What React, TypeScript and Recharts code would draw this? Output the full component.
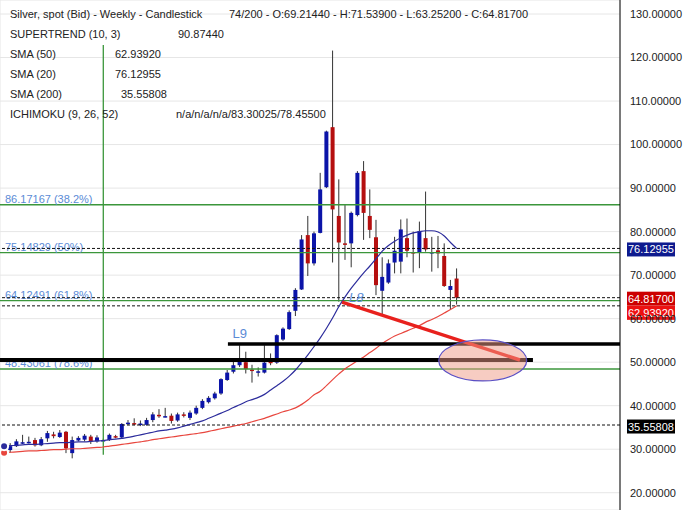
import type { ReactElement } from 'react';
import {
  Bar,
  CartesianGrid,
  ComposedChart,
  Line,
  ReferenceDot,
  ReferenceLine,
  XAxis,
  YAxis,
} from 'recharts';

// weekly candles (index 0 = oldest)
const OPEN = [
  30.1, 29.8, 30.7, 31.5, 31.6, 32.1, 30.9, 32.5, 33.4, 32.8, 34.0, 29.1, 32.0, 32.2, 32.9, 31.8,
  32.0, 32.1, 33.0, 32.7, 35.8, 36.0, 35.6, 35.6, 36.7, 37.9, 37.5, 37.7, 36.6, 38.0, 37.2, 38.2,
  39.5, 40.8, 41.7, 42.8, 45.9, 47.8, 49.3, 50.0, 48.3, 47.7, 47.6, 50.1, 49.9, 55.2, 57.6, 61.8,
  66.7, 79.2, 72.7, 79.7, 90.2, 104.0, 83.6, 77.3, 77.3, 83.8, 93.9, 83.6, 78.7, 66.4, 68.3, 72.9,
  73.1, 78.5, 75.3, 75.2, 78.5, 75.1, 75.7, 74.4, 66.6, 69.2144,
];
const HIGH = [
  30.6, 31.4, 32.3, 33.3, 32.9, 32.6, 32.8, 34.2, 34.0, 34.4, 34.2, 32.9, 33.0, 33.5, 33.3, 33.2,
  32.4, 33.6, 33.3, 36.0, 36.7, 37.1, 36.6, 37.2, 38.5, 39.2, 39.5, 38.2, 38.4, 38.5, 38.9, 40.0,
  41.5, 42.2, 43.2, 46.3, 48.2, 50.9, 53.9, 52.4, 49.4, 48.8, 53.9, 52.0, 56.4, 58.0, 61.9, 67.0,
  79.2, 83.6, 80.0, 93.5, 103.2, 121.6, 92.0, 86.1, 84.6, 93.9, 96.2, 89.7, 82.7, 74.1, 73.6, 78.8,
  82.8, 83.0, 80.0, 82.3, 89.2, 78.8, 79.0, 77.3, 68.9, 71.539,
];
const LOW = [
  29.9, 29.2, 30.5, 31.2, 31.3, 30.6, 30.7, 31.7, 32.5, 32.6, 29.1, 27.9, 31.8, 31.8, 31.2, 31.5,
  31.8, 31.9, 32.5, 32.5, 35.5, 35.5, 35.3, 35.4, 36.2, 37.2, 37.3, 35.9, 36.3, 37.3, 36.7, 37.9,
  39.2, 40.5, 41.4, 42.5, 45.7, 47.4, 48.9, 47.4, 45.3, 46.7, 47.4, 49.3, 49.6, 54.9, 57.4, 60.6,
  66.6, 69.8, 72.2, 79.6, 90.0, 72.9, 63.9, 73.5, 71.8, 83.5, 78.1, 78.5, 65.4, 60.8, 68.0, 70.4,
  70.4, 74.1, 70.6, 71.6, 75.4, 70.8, 71.6, 67.3, 62.0, 63.252,
];
const CLOSE = [
  30.3, 30.7, 31.8, 31.6, 31.7, 30.9, 32.3, 33.7, 33.0, 33.8, 30.2, 32.1, 32.6, 33.1, 31.8, 32.7,
  32.1, 33.3, 32.7, 35.8, 36.1, 35.8, 35.9, 36.7, 38.0, 37.7, 37.6, 36.5, 38.0, 37.8, 38.4, 39.5,
  41.1, 41.8, 42.8, 46.1, 47.6, 49.3, 50.9, 48.4, 48.1, 47.9, 49.9, 49.8, 56.2, 57.7, 61.5, 66.6,
  78.2, 72.7, 79.6, 89.7, 103.0, 85.1, 77.5, 77.0, 84.3, 93.5, 84.3, 80.4, 67.7, 69.6, 72.7, 75.6,
  80.5, 75.6, 75.1, 80.1, 75.9, 75.3, 75.0, 67.5, 67.5, 64.817,
];
const SMA20 = [
  30.7, 30.8, 30.9, 31.0, 31.1, 31.1, 31.2, 31.3, 31.4, 31.5, 31.5, 31.6, 31.7, 31.7, 31.8, 31.9,
  32.0, 32.2, 32.3, 32.5, 32.7, 33.0, 33.3, 33.6, 33.9, 34.2, 34.4, 34.6, 34.9, 35.3, 35.7, 36.1,
  36.5, 37.1, 37.7, 38.3, 38.9, 39.6, 40.2, 40.9, 41.4, 41.9, 42.6, 43.6, 44.6, 45.6, 46.8, 48.2,
  49.9, 51.7, 53.6, 55.6, 57.8, 60.2, 62.8, 65.0, 67.0, 68.8, 70.5, 72.1, 73.8, 75.5, 76.8, 77.8,
  78.6, 79.2, 79.7, 80.0, 80.2, 80.2, 79.9, 79.0, 77.5, 76.12955,
];
const SMA50 = [
  29.2, 29.3, 29.4, 29.5, 29.6, 29.6, 29.7, 29.8, 29.9, 29.9, 30.0, 30.1, 30.1, 30.2, 30.3, 30.4,
  30.5, 30.7, 30.9, 31.1, 31.3, 31.5, 31.7, 31.9, 32.2, 32.4, 32.6, 32.8, 33.0, 33.2, 33.4, 33.6,
  33.8, 34.1, 34.4, 34.7, 35.0, 35.3, 35.6, 35.9, 36.3, 36.7, 37.1, 37.6, 38.1, 38.6, 39.0, 39.5,
  40.3, 41.3, 42.5, 43.3, 44.6, 46.0, 47.3, 48.5, 49.4, 50.3, 51.2, 52.2, 53.2, 54.3, 55.2, 56.0,
  56.6, 57.2, 57.8, 58.4, 59.2, 59.8, 60.5, 61.3, 62.1, 62.9392,
];

const PRICE_TICKS = [20, 30, 40, 50, 60, 70, 80, 90, 100, 110, 120, 130];
const WEEK_TICKS = [0, 14, 28, 42, 56, 70, 84, 98];

const FIB_LEVELS = [86.17167, 75.14829, 64.12491, 48.43061];
const FIB_RATIOS = ['38.2%', '50%', '61.8%', '78.6%'];

const LAST_CLOSE = 64.817;
const SMA20_LAST = 76.12955;
const SMA50_LAST = 62.9392;
const SMA200_LAST = 35.55808;

const SUPPORT_LOW = 50.5;
const SUPPORT_HIGH = 54.2;
const TREND_FROM = { i: 54.5, p: 63.8 };
const TREND_TO = { i: 83.2, p: 50.5 };

const HEADER = 'Silver, spot (Bid) - Weekly - Candlestick';
const OHLC = '74/200 - O:69.21440 - H:71.53900 - L:63.25200 - C:64.81700';

const FONT = '"Liberation Sans", Arial, sans-serif';
const UP = '#0b14a8';
const DOWN = '#b50f0f';
const GREEN = '#3b963b';
const FIB_TEXT = '#5b8bd6';

const data = OPEN.map((o, i) => ({
  i,
  open: o,
  high: HIGH[i],
  low: LOW[i],
  close: CLOSE[i],
  range: [LOW[i], HIGH[i]],
  sma20: SMA20[i],
  sma50: SMA50[i],
}));

function Candle(props: any) {
  const { x, y, width, height, payload } = props;
  if (!payload || height == null) return null;
  const { open, close, high, low } = payload;
  const top = height < 0 ? y + height : y;
  const h = Math.abs(height);
  const cx = x + width / 2;
  const k = high > low ? h / (high - low) : 0;
  const yo = top + (high - open) * k;
  const yc = top + (high - close) * k;
  const bodyTop = Math.min(yo, yc);
  const bodyH = Math.max(Math.abs(yo - yc), 1.5);
  return (
    <g>
      <line x1={cx} x2={cx} y1={top} y2={top + h} stroke="#333" strokeWidth={1} />
      <rect x={cx - 2} y={bodyTop} width={4} height={bodyH} fill={close >= open ? UP : DOWN} />
    </g>
  );
}

function fibLabel(text: string) {
  return (p: any) => (
    <text x={p.viewBox.x + 5} y={p.viewBox.y - 2} fill={FIB_TEXT} fontSize={11} fontFamily={FONT}>
      {text}
    </text>
  );
}

function badge(value: number, fill: string, dy: number) {
  return (p: any) => {
    const bx = p.viewBox.x + p.viewBox.width + 7;
    const by = p.viewBox.y + dy;
    return (
      <g>
        <rect x={bx} y={by - 7} width={48} height={14} fill={fill} />
        <text x={bx + 1} y={by + 4} fill="#fff" fontSize={11} fontFamily={FONT}>
          {value.toFixed(5)}
        </text>
      </g>
    );
  };
}

const infoRows: [string, string, number][] = [
  ['SUPERTREND (10, 3)', '90.87440', 178],
  ['SMA (50)', '62.93920', 115],
  ['SMA (20)', '76.12955', 115],
  ['SMA (200)', '35.55808', 121],
  ['ICHIMOKU (9, 26, 52)', 'n/a/n/a/n/a/83.30025/78.45500', 176],
];

export default function App(): ReactElement {
  const txt = { position: 'absolute' as const, fontSize: 11, lineHeight: '14px', color: '#222', whiteSpace: 'nowrap' as const };
  return (
    <div style={{ position: 'relative', width: 690, height: 510, fontFamily: FONT, background: '#fff' }}>
      <style>{'body{margin:0}'}</style>
      <ComposedChart width={690} height={510} data={data} margin={{ top: 0, right: 0, bottom: 0, left: 0 }}>
        <CartesianGrid stroke="#e6e6e6" />
        <XAxis
          dataKey="i"
          type="number"
          domain={[-0.66, 99.34]}
          ticks={WEEK_TICKS}
          height={0}
          tick={false}
          tickLine={false}
          axisLine={false}
          allowDataOverflow
        />
        <YAxis
          orientation="right"
          type="number"
          width={70}
          domain={[16.03, 133.22]}
          ticks={PRICE_TICKS}
          tickFormatter={(v: number) => v.toFixed(5)}
          tickLine={false}
          tickMargin={4}
          axisLine={{ stroke: '#000' }}
          tick={{ fontSize: 11, fill: '#222', fontFamily: FONT }}
          allowDataOverflow
        />

        {FIB_LEVELS.map((lv, k) => (
          <ReferenceLine
            key={lv}
            y={lv}
            stroke={GREEN}
            strokeWidth={1.3}
            label={fibLabel(`${lv.toFixed(5)} (${FIB_RATIOS[k]})`)}
          />
        ))}
        <ReferenceLine y={SMA20_LAST} stroke="#111" strokeDasharray="3 2" label={badge(SMA20_LAST, '#0d1a8e', 1)} />
        <ReferenceLine y={LAST_CLOSE} stroke="#111" strokeDasharray="3 2" label={badge(LAST_CLOSE, '#cc0000', 1)} />
        <ReferenceLine y={SMA50_LAST} stroke="#111" strokeDasharray="3 2" label={badge(SMA50_LAST, '#ec1111', 7)} />
        <ReferenceLine y={SMA200_LAST} stroke="#111" strokeDasharray="3 2" label={badge(SMA200_LAST, '#000', 1.5)} />

        <ReferenceLine
          segment={[{ x: 16, y: 122.9 }, { x: 16, y: 28.7 }]}
          stroke={GREEN}
          strokeWidth={1.3}
        />

        <ReferenceDot
          x={77.2}
          y={50.4}
          r={20}
          shape={(p: any) => (
            <ellipse
              cx={p.cx}
              cy={p.cy}
              rx={44}
              ry={20.5}
              fill="#f09a86"
              fillOpacity={0.5}
              stroke="#5a4fc4"
              strokeWidth={1.2}
            />
          )}
        />

        <Line dataKey="sma50" type="monotone" stroke="#e8463e" strokeWidth={1.2} dot={false} isAnimationActive={false} />
        <Line dataKey="sma20" type="monotone" stroke="#2c2c9c" strokeWidth={1.2} dot={false} isAnimationActive={false} />
        <Bar dataKey="range" barSize={4} shape={Candle} isAnimationActive={false} />

        <ReferenceLine
          segment={[{ x: -0.66, y: SUPPORT_LOW }, { x: 85.3, y: SUPPORT_LOW }]}
          stroke="#000"
          strokeWidth={4}
        />
        <ReferenceLine
          segment={[{ x: 36.1, y: SUPPORT_HIGH }, { x: 99.34, y: SUPPORT_HIGH }]}
          stroke="#000"
          strokeWidth={3.5}
        />
        <ReferenceLine
          segment={[{ x: TREND_FROM.i, y: TREND_FROM.p }, { x: TREND_TO.i, y: TREND_TO.p }]}
          stroke="#e8211d"
          strokeWidth={3.5}
        />

        <ReferenceDot
          x={38}
          y={56.7}
          r={0}
          shape={(p: any) => (
            <text x={p.cx} y={p.cy + 5} textAnchor="middle" fill={FIB_TEXT} fontSize={13} fontFamily={FONT}>
              L9
            </text>
          )}
        />
        <ReferenceDot
          x={56.8}
          y={65.0}
          r={0}
          shape={(p: any) => (
            <text x={p.cx} y={p.cy + 5} textAnchor="middle" fill={FIB_TEXT} fontSize={13} fontFamily={FONT} fontStyle="italic">
              L8
            </text>
          )}
        />
      </ComposedChart>

      <div style={{ ...txt, left: 10, top: 7 }}>{HEADER}</div>
      <div style={{ ...txt, left: 229, top: 7 }}>{OHLC}</div>
      {infoRows.map(([name, val, vx], k) => (
        <div key={name}>
          <div style={{ ...txt, left: 10, top: 27 + k * 20 }}>{name}</div>
          <div style={{ ...txt, left: vx, top: 27 + k * 20 }}>{val}</div>
        </div>
      ))}
    </div>
  );
}
